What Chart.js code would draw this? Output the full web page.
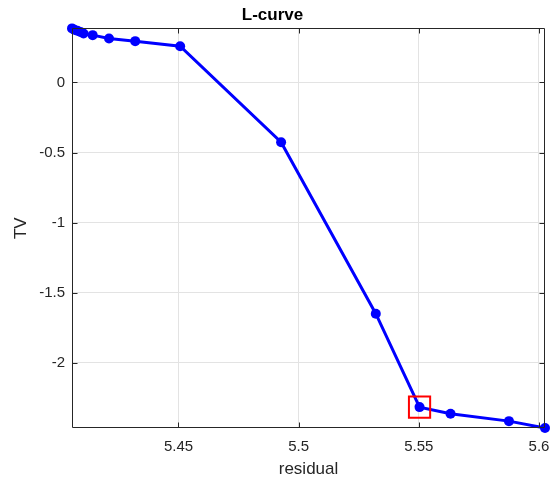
<!DOCTYPE html>
<html>
<head>
<meta charset="utf-8">
<script src="https://cdn.jsdelivr.net/npm/chart.js@4/dist/chart.umd.min.js"></script>
<style>
html,body{margin:0;padding:0;background:#fff;}
#wrap{width:550px;height:481px;position:relative;}
</style>
</head>
<body>
<div id="wrap"><canvas id="c" width="550" height="481"></canvas></div>
<script>
const residual = [5.4057, 5.4067, 5.4079, 5.4092, 5.4105, 5.4143, 5.4211, 5.4320, 5.4507, 5.4927, 5.5321, 5.5503, 5.5632, 5.5875, 5.6025];
const tv       = [0.386, 0.377, 0.370, 0.361, 0.350, 0.338, 0.314, 0.295, 0.259, -0.426, -1.650, -2.317, -2.364, -2.417, -2.466];
const chosenIndex = 11;
const xTicks = [5.45, 5.5, 5.55, 5.6];
const yTicks = [-2, -1.5, -1, -0.5, 0];
const titleText = 'L-curve';
const xLabel = 'residual';
const yLabel = 'TV';

const pts = residual.map((x, i) => ({x: x, y: tv[i]}));
const AXC = '#262626';
const FONT = '"Liberation Sans", Arial, sans-serif';

const frame = {
  id: 'frame',
  afterDatasetsDraw(chart) {
    const {ctx, chartArea: a, scales} = chart;
    ctx.save();
    ctx.strokeStyle = AXC;
    ctx.lineWidth = 1;
    ctx.beginPath();
    const L = Math.round(a.left) + 0.5, R = Math.round(a.right) - 0.5;
    const T = Math.round(a.top) + 0.5, B = Math.round(a.bottom) - 0.5;
    ctx.rect(L, T, R - L, B - T);
    const tl = 5;
    xTicks.forEach(v => {
      const px = Math.round(scales.x.getPixelForValue(v)) + 0.5;
      ctx.moveTo(px, B); ctx.lineTo(px, B - tl);
      ctx.moveTo(px, T); ctx.lineTo(px, T + tl);
    });
    yTicks.forEach(v => {
      const py = Math.round(scales.y.getPixelForValue(v)) + 0.5;
      ctx.moveTo(L, py); ctx.lineTo(L + tl, py);
      ctx.moveTo(R, py); ctx.lineTo(R - tl, py);
    });
    ctx.stroke();
    ctx.restore();
  }
};

new Chart(document.getElementById('c'), {
  type: 'scatter',
  data: {
    datasets: [
      {
        data: [pts[chosenIndex]],
        pointStyle: 'rect',
        pointRadius: 15,
        pointHoverRadius: 15,
        backgroundColor: 'rgba(0,0,0,0)',
        borderColor: '#ff0000',
        pointBorderWidth: 2,
        borderWidth: 2,
        showLine: false,
        clip: false,
        order: 0
      },
      {
        data: pts,
        showLine: true,
        borderColor: '#0000ff',
        backgroundColor: '#0000ff',
        borderWidth: 3,
        pointRadius: 5,
        pointHoverRadius: 5,
        pointBorderWidth: 0,
        pointBackgroundColor: '#0000ff',
        tension: 0,
        clip: false,
        order: 1
      }
    ]
  },
  options: {
    responsive: false,
    animation: false,
    events: [],
    layout: {autoPadding: false, padding: {left: 0, right: 5, top: 0, bottom: 0}},
    plugins: {
      legend: {display: false},
      tooltip: {enabled: false},
      title: {
        display: true,
        text: titleText,
        color: '#000',
        font: {family: FONT, size: 17, weight: 'bold', lineHeight: 1.2},
        padding: {top: 5, bottom: 3}
      }
    },
    scales: {
      x: {
        type: 'linear',
        min: Math.min(...residual),
        max: Math.max(...residual),
        afterBuildTicks: s => { s.ticks = xTicks.map(v => ({value: v})); },
        afterFit: s => { s.height = 53; s.paddingLeft = 0; s.paddingRight = 0; },
        ticks: {
          color: AXC,
          padding: 10,
          maxRotation: 0,
          font: {family: FONT, size: 15},
          callback: v => String(v)
        },
        grid: {color: '#e3e3e3', drawTicks: false, lineWidth: 1},
        border: {display: false},
        title: {
          display: true, text: xLabel, color: AXC,
          font: {family: FONT, size: 17},
          padding: {top: 0, bottom: 1}
        }
      },
      y: {
        type: 'linear',
        min: Math.min(...tv),
        max: Math.max(...tv),
        afterBuildTicks: s => { s.ticks = yTicks.map(v => ({value: v})); },
        afterFit: s => { s.width = 72; s.paddingTop = 0; s.paddingBottom = 0; },
        ticks: {
          color: AXC,
          padding: 7,
          font: {family: FONT, size: 15},
          callback: v => String(v)
        },
        grid: {color: '#e3e3e3', drawTicks: false, lineWidth: 1},
        border: {display: false},
        title: {
          display: true, text: yLabel, color: AXC,
          font: {family: FONT, size: 17},
          padding: {top: 11, bottom: 0}
        }
      }
    }
  },
  plugins: [frame]
});
</script>
</body>
</html>
